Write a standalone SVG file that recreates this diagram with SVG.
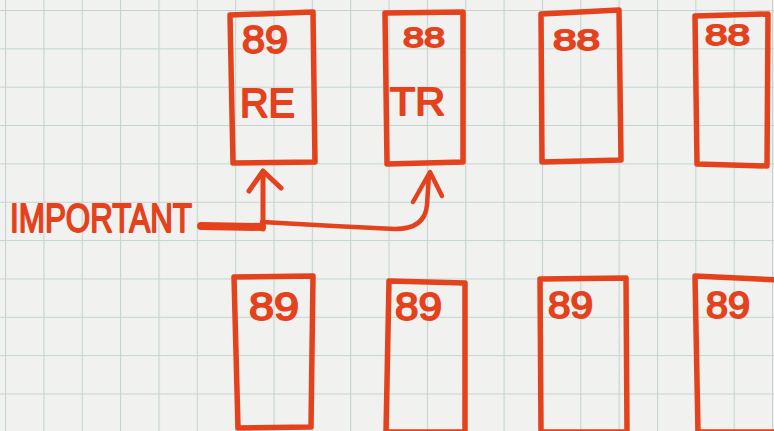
<svg xmlns="http://www.w3.org/2000/svg" width="774" height="431" viewBox="0 0 774 431">
<defs>
<pattern id="grid" patternUnits="userSpaceOnUse" x="5" y="10" width="38.35" height="38.35">
<path d="M0 0V38.35M0 0H38.35" fill="none" stroke="#c3d5d1" stroke-width="2.2"/>
</pattern>
</defs>
<style>
.box{fill:none;stroke:#e3421c;stroke-width:5.5;stroke-linejoin:round;stroke-linecap:round}
.t{fill:#e3421c;stroke:#e3421c;stroke-width:1.8;stroke-linejoin:round;font-family:"Liberation Sans","DejaVu Sans",sans-serif;font-weight:normal}
.c{fill:none;stroke:#e3421c;stroke-linecap:round;stroke-linejoin:round}
</style>
<rect width="774" height="431" fill="#f1f1ef"/>
<rect width="774" height="431" fill="url(#grid)"/>

<g id="box-re">
<path class="box" d="M230 15L313 12L315 162L233 163Z"/>
<text class="t" x="242" y="53" font-size="38" textLength="46" lengthAdjust="spacingAndGlyphs">89</text>
<text class="t" x="240" y="117" font-size="40" textLength="55" lengthAdjust="spacingAndGlyphs">RE</text>
</g>
<g id="box-tr">
<path class="box" d="M385 13L463 12L463 162L387 164Z"/>
<text class="t" x="403" y="47" font-size="28" textLength="42" lengthAdjust="spacingAndGlyphs">88</text>
<text class="t" x="390" y="115" font-size="38" textLength="55" lengthAdjust="spacingAndGlyphs">TR</text>
</g>
<g id="box-3">
<path class="box" d="M541 14L619 10L621 160L542 162Z"/>
<text class="t" x="553" y="50" font-size="30" textLength="47" lengthAdjust="spacingAndGlyphs">88</text>
</g>
<g id="box-4">
<path class="box" d="M695 16L768 14L767 166L697 164Z"/>
<text class="t" x="705" y="45" font-size="30" textLength="45" lengthAdjust="spacingAndGlyphs">88</text>
</g>

<g id="box-5">
<path class="box" d="M234 277L313 276L311 427L238 428Z"/>
<text class="t" x="249" y="320" font-size="38" textLength="50" lengthAdjust="spacingAndGlyphs">89</text>
</g>
<g id="box-6">
<path class="box" d="M389 281L465 283L465 432L386 432Z"/>
<text class="t" x="395" y="320" font-size="38" textLength="47" lengthAdjust="spacingAndGlyphs">89</text>
</g>
<g id="box-7">
<path class="box" d="M540 279L626 278L627 432L541 432Z"/>
<text class="t" x="548" y="318" font-size="36" textLength="45" lengthAdjust="spacingAndGlyphs">89</text>
</g>
<g id="box-8">
<path class="box" d="M695 276L780 280L780 432L698 432Z"/>
<text class="t" x="706" y="318" font-size="36" textLength="44" lengthAdjust="spacingAndGlyphs">89</text>
</g>

<g id="label-important">
<text class="t" x="10" y="232" font-size="40" textLength="182" lengthAdjust="spacingAndGlyphs">IMPORTANT</text>
</g>

<g id="connectors">
<path class="c" stroke-width="8" d="M201 226L262 227"/>
<path class="c" stroke-width="5" d="M263 229L263 172M249 191L263 171L281 188"/>
<path class="c" stroke-width="4.5" d="M262 222Q330 226 395 229Q425 229 427 205L429 174M413 202L430 172L442 196"/>
</g>
</svg>
